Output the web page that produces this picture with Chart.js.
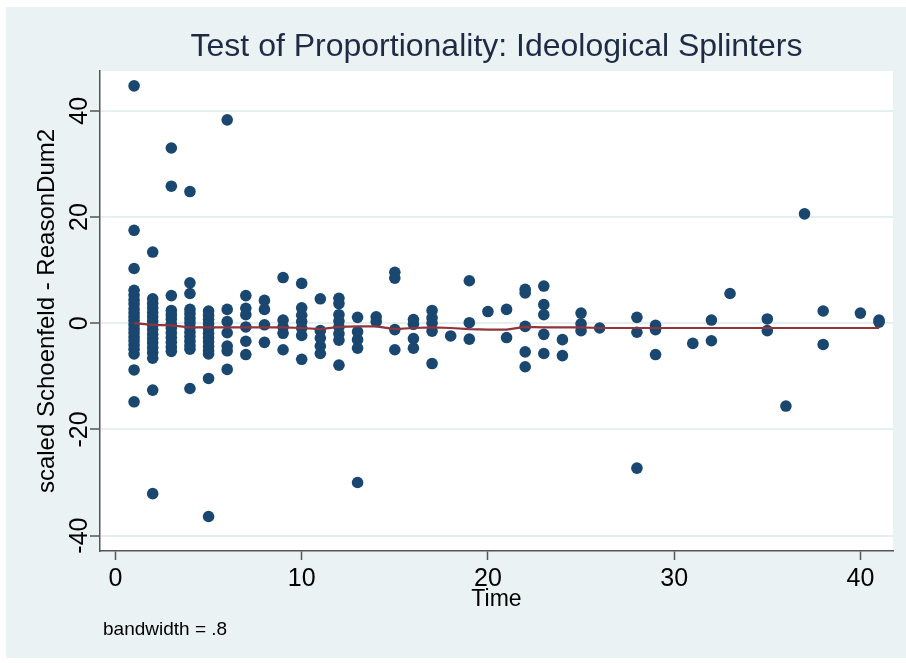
<!DOCTYPE html>
<html>
<head>
<meta charset="utf-8">
<title>Test of Proportionality: Ideological Splinters</title>
<script src="https://cdn.jsdelivr.net/npm/chart.js@4/dist/chart.umd.min.js"></script>
<style>
  html, body { margin: 0; padding: 0; background: #ffffff; }
  #wrap { width: 906px; height: 663px; position: relative; }
</style>
</head>
<body>
<div id="wrap"><canvas id="chart" width="906" height="663"></canvas></div>
<script>
// Analysis times that carry at least one observation
const timePoints = [1, 2, 3, 4, 5, 6, 7, 8, 9, 10, 11, 12, 13, 14, 15, 16, 17, 18, 19, 20,
                    21, 22, 23, 24, 25, 26, 28, 29, 31, 32, 33, 35, 36, 37, 38, 40, 41];

// Scaled Schoenfeld residuals for ReasonDum2, grouped by analysis time
const residuals = [
  [44.7, 17.5, 10.3, 6.2, 5.3, 4.4, 3.6, 2.7, 1.9, 1.2, 0.5, -0.3, -1.1, -1.8, -2.6, -3.3, -4.1, -4.9, -5.8, -8.8, -14.8],
  [13.4, 4.6, 3.7, 2.9, 2.0, 1.2, 0.4, -0.4, -1.2, -2.1, -2.9, -3.7, -4.6, -5.5, -6.6, -12.6, -32.1],
  [33.0, 25.8, 5.2, 2.4, 1.6, 0.8, -0.1, -0.9, -1.8, -2.7, -3.6, -4.5, -5.3],
  [24.8, 7.6, 5.6, 2.6, 1.8, 0.9, 0.1, -0.8, -1.7, -2.5, -3.4, -4.2, -4.9, -12.3],
  [2.3, 1.5, 0.7, -0.1, -1.0, -1.9, -2.7, -3.5, -4.4, -5.2, -5.8, -10.4, -36.4],
  [38.3, 2.6, 0.3, -1.8, -4.3, -5.2, -8.7],
  [5.2, 2.8, 1.6, -0.7, -3.4, -5.9],
  [4.3, 2.6, -0.3, -3.6],
  [8.6, 0.6, -0.7, -1.9, -5.0],
  [7.5, 2.9, 1.5, 0.3, -0.9, -2.3, -6.8],
  [4.6, -1.4, -2.8, -4.3, -5.7],
  [4.7, 3.7, 1.6, 0.4, -0.7, -2.0, -3.2, -7.9],
  [1.1, -1.6, -3.1, -4.7, -30.0],
  [1.2, 0.3],
  [9.6, 8.5, -1.2, -5.0],
  [0.7, -0.2, -2.9, -4.7],
  [2.4, 1.0, 0.0, -1.5, -7.6],
  [-2.4],
  [8.0, 0.1, -3.0],
  [2.2],
  [2.6, -2.7],
  [6.4, 5.7, -0.6, -5.4, -8.2],
  [7.0, 3.5, 1.6, -2.1, -5.7],
  [-3.1, -6.1],
  [1.9, -0.1, -1.4],
  [-0.9],
  [1.1, -1.7, -27.3],
  [-0.4, -1.2, -5.9],
  [-3.8],
  [0.6, -3.3],
  [5.6],
  [0.8, -1.4],
  [-15.6],
  [20.6],
  [2.3, -4.0],
  [1.9],
  [0.6, 0.2]
];

// Lowess smooth (bandwidth .8) evaluated at each analysis time
const lowessFit = [0.0, -0.3, -0.4, -0.8, -0.8, -0.8, -0.8, -0.8, -0.8, -0.9, -1.1, -0.7, -0.6, -0.6,
                   -1.1, -0.9, -0.8, -0.9, -1.1, -1.2, -1.2, -0.7, -0.8, -0.8, -0.8, -0.9, -0.9, -0.9,
                   -0.9, -0.9, -0.9, -0.9, -0.9, -0.9, -0.9, -0.9, -0.9];

const xTicks = [0, 10, 20, 30, 40];
const yTicks = [-40, -20, 0, 20, 40];

const chartTitle = 'Test of Proportionality: Ideological Splinters';
const xTitle = 'Time';
const yTitle = 'scaled Schoenfeld - ReasonDum2';
const noteText = 'bandwidth = .8';

const FONT = '"Liberation Sans", Arial, Helvetica, sans-serif';

const scatterPoints = timePoints.flatMap((t, i) => residuals[i].map(r => ({ x: t, y: r })));
const lowessPoints = timePoints.map((t, i) => ({ x: t, y: lowessFit[i] }));

// Graph region background, white plot region, title and note
const stataFrame = {
  id: 'stataFrame',
  beforeDraw(chart) {
    const { ctx, chartArea: a, width, height } = chart;
    ctx.save();
    ctx.fillStyle = '#ffffff';
    ctx.fillRect(0, 0, width, height);
    ctx.fillStyle = '#EAF2F3';
    ctx.fillRect(6, 7, width - 6, 651);
    ctx.fillStyle = '#ffffff';
    ctx.fillRect(a.left, a.top, a.right - a.left, a.bottom - a.top);
    ctx.restore();
  },
  afterDraw(chart) {
    const { ctx, chartArea: a } = chart;
    ctx.save();
    ctx.fillStyle = '#1E2B45';
    ctx.font = '32px ' + FONT;
    ctx.textAlign = 'center';
    ctx.textBaseline = 'middle';
    ctx.fillText(chartTitle, (a.left + a.right) / 2, 47);
    ctx.fillStyle = '#000000';
    ctx.font = '19px ' + FONT;
    ctx.textAlign = 'left';
    ctx.fillText(noteText, 103, 630);
    ctx.restore();
  }
};

new Chart(document.getElementById('chart'), {
  data: {
    datasets: [
      {
        type: 'line',
        label: 'lowess',
        data: lowessPoints,
        borderColor: '#90353B',
        borderWidth: 2.2,
        pointRadius: 0,
        tension: 0,
        fill: false,
        order: 0
      },
      {
        type: 'scatter',
        label: 'residuals',
        data: scatterPoints,
        backgroundColor: '#1A476F',
        borderColor: '#1A476F',
        borderWidth: 0,
        pointRadius: 5.8,
        order: 1
      }
    ]
  },
  options: {
    responsive: false,
    animation: false,
    devicePixelRatio: 1,
    events: [],
    layout: { padding: { left: 0, right: 13, top: 71, bottom: 0 } },
    plugins: {
      legend: { display: false },
      tooltip: { enabled: false },
      title: { display: false }
    },
    scales: {
      x: {
        type: 'linear',
        position: 'bottom',
        min: -0.83,
        max: 41.75,
        afterBuildTicks: s => { s.ticks = xTicks.map(v => ({ value: v })); },
        afterFit: s => { s.height = 112; },
        grid: { drawOnChartArea: false, drawTicks: true, tickLength: 9, tickColor: '#555555', tickWidth: 1.5 },
        border: { display: true, color: '#555555', width: 1.5 },
        ticks: {
          color: '#000000',
          font: { family: FONT, size: 25 },
          padding: 4,
          maxRotation: 0,
          autoSkip: false,
          callback: v => String(v)
        },
        title: {
          display: true,
          text: xTitle,
          color: '#000000',
          font: { family: FONT, size: 23 },
          padding: { top: 0, bottom: 50 }
        }
      },
      y: {
        type: 'linear',
        position: 'left',
        min: -42.9,
        max: 47.5,
        afterBuildTicks: s => { s.ticks = yTicks.map(v => ({ value: v })); },
        afterFit: s => { s.width = 100; },
        grid: { color: '#E6EEF0', lineWidth: 2, drawTicks: true, tickLength: 10, tickColor: '#555555', tickWidth: 1.5 },
        border: { display: true, color: '#555555', width: 1.5 },
        ticks: {
          color: '#000000',
          font: { family: FONT, size: 25 },
          padding: -8,
          minRotation: 90,
          maxRotation: 90,
          crossAlign: 'center',
          autoSkip: false,
          callback: v => String(v)
        },
        title: {
          display: true,
          text: yTitle,
          color: '#000000',
          font: { family: FONT, size: 24 },
          padding: { top: 33, bottom: 0 }
        }
      }
    }
  },
  plugins: [stataFrame]
});
</script>
</body>
</html>
